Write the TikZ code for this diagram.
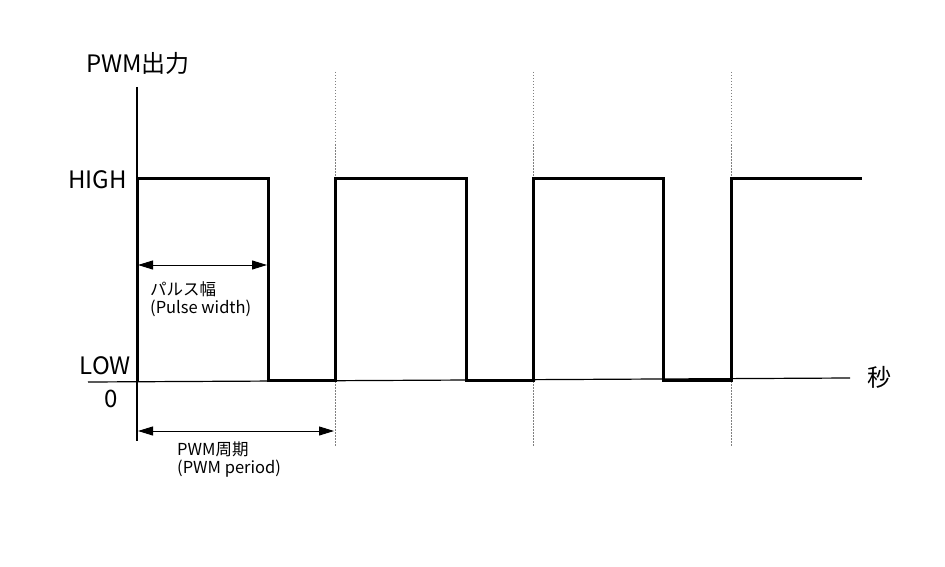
\documentclass[tikz,border=0pt]{standalone}
\usepackage{fontspec}
\setmainfont{Noto Sans CJK JP}
\usetikzlibrary{arrows.meta}
\begin{document}
\begin{tikzpicture}[x=1pt,y=-1pt,
  pulse/.style={line width=3pt, line join=miter},
  axisline/.style={line width=1.2pt},
  guide/.style={gray, line width=0.9pt, dash pattern=on 1.5pt off 1.5pt},
  dim/.style={line width=1pt, {Triangle[length=15pt,width=9pt]}-{Triangle[length=15pt,width=9pt]}},
  big/.style={font=\fontsize{24}{26}\selectfont, inner sep=0pt},
  small/.style={font=\fontsize{16.5}{18}\selectfont, inner sep=0pt, align=left}]
\useasboundingbox (0,0) rectangle (945,567);
% guides
\foreach \x/\n in {335/a,533/b,731/c}{
  \coordinate (gt\n) at (\x,72);
  \coordinate (gb\n) at (\x,446);
  \draw[guide] (gt\n) -- (gb\n);
}
% axes
\coordinate (yt) at (137,87);
\coordinate (yb) at (137,441);
\coordinate (xl) at (88,382);
\coordinate (xr) at (850,378);
\draw[axisline] (yt) -- (yb);
\draw[axisline] (xl) -- (xr);
% pulse
\draw[pulse] (137,382) -- (137,178) -- (268,178) -- (268,380) -- (335,380) -- (335,178) -- (466,178) -- (466,380) -- (533,380) -- (533,178) -- (663,178) -- (663,380) -- (731,380) -- (731,178) -- (862,178);
% dimension arrows
\coordinate (pwl) at (138,265);
\coordinate (pwr) at (267,265);
\draw[dim] (pwl) -- (pwr);
\coordinate (ppl) at (138,431);
\coordinate (ppr) at (334,431);
\draw[dim] (ppl) -- (ppr);
% labels
\node[big] (title) at (138,63) {PWM出力};
\node[big, anchor=east] (high) at (127,180) {HIGH};
\node[big, anchor=east] (low) at (131,366) {LOW};
\node[big] (zero) at (111,399) {0};
\node[big] (sec) at (879,377) {秒};
\node[small, anchor=north west] (pw) at (150,281) {パルス幅\\(Pulse width)};
\node[small, anchor=north west] (pp) at (177,442) {PWM周期\\(PWM period)};
\end{tikzpicture}
\end{document}
